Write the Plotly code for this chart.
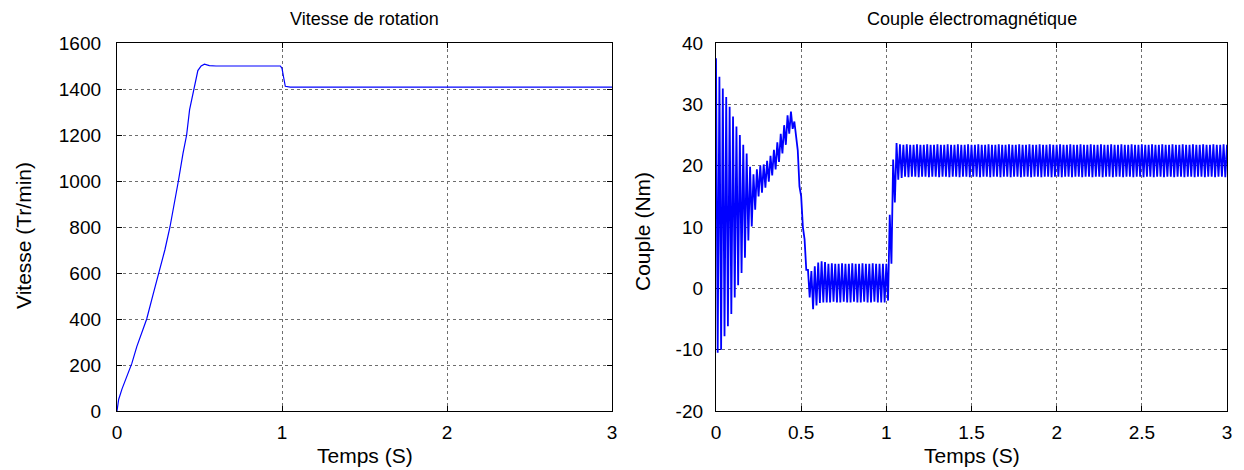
import numpy as np
import plotly.graph_objects as go

# ---------------- Speed (left) ----------------
speed_t = [0, 0.01, 0.03, 0.05, 0.09, 0.12, 0.18, 0.22, 0.255, 0.29, 0.321, 0.35, 0.372,
           0.40, 0.422, 0.44, 0.47, 0.49, 0.51, 0.53, 0.56, 0.60, 0.99, 1.00, 1.01, 1.02,
           1.05, 3.00]
speed_v = [0, 50, 95, 135, 207, 280, 400, 510, 600, 700, 800, 905, 1000,
           1120, 1200, 1310, 1410, 1480, 1500, 1508, 1502, 1500, 1500, 1490, 1450, 1412,
           1408, 1408]

# ---------------- Torque (right): oscillation envelope every 0.02 s ----------------
torque_t = np.round(np.arange(0, 3.0001, 0.02), 2)
torque_up = [37.5, 34.5, 32.6, 31.2, 29.6, 28.0, 26.4, 25.0, 23.4, 22.0,
             19.8, 18.6, 19.4, 20.0, 20.2, 20.8, 21.6, 22.6, 23.8, 25.2,
             26.6, 28.2, 28.8, 27.2, 22.5, 15.0, 8.0, 3.0, 2.8, 3.6,
             4.2, 4.4, 4.3, 4.0, 4.1, 4.0, 4.0, 4.1, 4.0, 4.0,
             4.1, 4.0, 4.0, 4.1, 4.0, 4.0, 4.1, 4.0, 4.0, 4.0,
             4.0, 12.0, 21.0, 23.7, 23.5,
             23.4, 23.5, 23.4, 23.4, 23.5, 23.4, 23.4, 23.5, 23.4, 23.4, 23.5, 23.4,
             23.4, 23.5, 23.4, 23.4, 23.5, 23.4, 23.4, 23.5, 23.4, 23.4, 23.5, 23.4,
             23.4, 23.5, 23.4, 23.4, 23.5, 23.4, 23.4, 23.5, 23.4, 23.4, 23.5, 23.4,
             23.4, 23.5, 23.4, 23.4, 23.5, 23.4, 23.4, 23.5, 23.4, 23.4, 23.5, 23.4,
             23.4, 23.5, 23.4, 23.4, 23.5, 23.4, 23.4, 23.5, 23.4, 23.4, 23.5, 23.4,
             23.4, 23.5, 23.4, 23.4, 23.5, 23.4, 23.4, 23.5, 23.4, 23.4, 23.5, 23.4,
             23.4, 23.5, 23.4, 23.4, 23.5, 23.4, 23.4, 23.5, 23.4, 23.4, 23.5, 23.4,
             23.4, 23.5, 23.4, 23.4, 23.5, 23.4, 23.4, 23.5, 23.4, 23.4, 23.5, 23.4]
torque_lo = [-10.5, -10.0, -7.8, -6.2, -4.2, -1.5, 0.5, 2.5, 5.0, 7.8,
             10.1, 12.8, 15.0, 15.6, 16.4, 17.4, 18.4, 19.4, 20.6, 22.0,
             23.4, 25.2, 26.0, 24.2, 16.6, 10.0, 3.0, -1.5, -3.4, -2.8,
             -2.4, -2.3, -2.3, -2.3, -2.2, -2.3, -2.3, -2.2, -2.3, -2.3,
             -2.2, -2.3, -2.3, -2.2, -2.3, -2.3, -2.2, -2.3, -2.3, -2.3,
             -2.0, 4.0, 14.0, 17.7, 18.0,
             18.2, 18.1, 18.2, 18.2, 18.1, 18.2, 18.2, 18.1, 18.2, 18.2, 18.1, 18.2,
             18.2, 18.1, 18.2, 18.2, 18.1, 18.2, 18.2, 18.1, 18.2, 18.2, 18.1, 18.2,
             18.2, 18.1, 18.2, 18.2, 18.1, 18.2, 18.2, 18.1, 18.2, 18.2, 18.1, 18.2,
             18.2, 18.1, 18.2, 18.2, 18.1, 18.2, 18.2, 18.1, 18.2, 18.2, 18.1, 18.2,
             18.2, 18.1, 18.2, 18.2, 18.1, 18.2, 18.2, 18.1, 18.2, 18.2, 18.1, 18.2,
             18.2, 18.1, 18.2, 18.2, 18.1, 18.2, 18.2, 18.1, 18.2, 18.2, 18.1, 18.2,
             18.2, 18.1, 18.2, 18.2, 18.1, 18.2, 18.2, 18.1, 18.2, 18.2, 18.1, 18.2,
             18.2, 18.1, 18.2, 18.2, 18.1, 18.2, 18.2, 18.1, 18.2, 18.2, 18.1, 18.2]

left_xticks = [0, 1, 2, 3]
left_yticks = [0, 200, 400, 600, 800, 1000, 1200, 1400, 1600]
right_xticks = [0, 0.5, 1, 1.5, 2, 2.5, 3]
right_xlabels = ["0", "0.5", "1", "1.5", "2", "2.5", "3"]
right_yticks = [-20, -10, 0, 10, 20, 30, 40]
right_ylabels = ["-20", "-10", "0", "10", "20", "30", "40"]

title_left = "Vitesse de rotation"
title_right = "Couple électromagnétique"
xlabel = "Temps (S)"
ylabel_left = "Vitesse (Tr/min)"
ylabel_right = "Couple (Nm)"

# zigzag between upper and lower envelope (half-step apart)
zz_x, zz_y = [], []
for t, u, l in zip(torque_t, torque_up, torque_lo):
    zz_x += [t, t + 0.01]
    zz_y += [u, l]

# page offset (body margin) compensation
OX, OY = 8, 8
W, H = 1244 - OX, 470 - OY


def xp(px):
    return (px - OX) / W


def yp(py):
    return 1 - (py - OY) / H


FONT = "Liberation Sans, Arial, sans-serif"
BLUE = "#0000ff"

fig = go.Figure()
fig.add_trace(go.Scatter(x=speed_t, y=speed_v, mode="lines",
                         line=dict(color=BLUE, width=1.2), xaxis="x", yaxis="y",
                         showlegend=False))
fig.add_trace(go.Scatter(x=zz_x, y=zz_y, mode="lines",
                         line=dict(color=BLUE, width=1.8), xaxis="x2", yaxis="y2",
                         showlegend=False))

ydom = [yp(411), yp(43)]
common = dict(showline=True, linecolor="black", linewidth=1.3, mirror="ticks",
              ticks="inside", ticklen=5, tickcolor="black", tickwidth=1,
              showgrid=True, gridcolor="#6e6e6e", griddash="dot", gridwidth=1,
              zeroline=False, automargin=False,
              tickfont=dict(family=FONT, size=19, color="black"))

fig.update_layout(
    template="none",
    width=W, height=H, margin=dict(l=0, r=0, t=0, b=0, pad=0), autosize=False,
    paper_bgcolor="white", plot_bgcolor="white",
    xaxis=dict(domain=[xp(117), xp(612)], range=[0, 3], tickvals=left_xticks,
               anchor="y", ticklabelstandoff=4, **common),
    yaxis=dict(domain=ydom, range=[0, 1600], tickvals=left_yticks, anchor="x",
               ticklabelstandoff=11, **common),
    xaxis2=dict(domain=[xp(716), xp(1227)], range=[0, 3], tickvals=right_xticks,
                ticktext=right_xlabels, anchor="y2", ticklabelstandoff=4, **common),
    yaxis2=dict(domain=ydom, range=[-20, 40], tickvals=right_yticks,
                ticktext=right_ylabels, anchor="x2",
                ticklabelstandoff=8, layer="below traces", **common),
)

ann_font = dict(family=FONT, size=18, color="black")
lab_font = dict(family=FONT, size=21, color="black")


def note(text, px, py, font, angle=0):
    fig.add_annotation(text=text, x=xp(px), y=yp(py), xref="paper", yref="paper",
                       xanchor="center", yanchor="middle", showarrow=False,
                       font=font, textangle=angle)


note(title_left, (117 + 612) / 2, 19, ann_font)
note(title_right, (716 + 1227) / 2, 19, ann_font)
note(xlabel, (117 + 612) / 2, 455, lab_font)
note(xlabel, (716 + 1227) / 2, 455, lab_font)
note(ylabel_left, 24, 236, lab_font, -90)
note(ylabel_right, 642, 232, lab_font, -90)

fig.write_html("out.html")
